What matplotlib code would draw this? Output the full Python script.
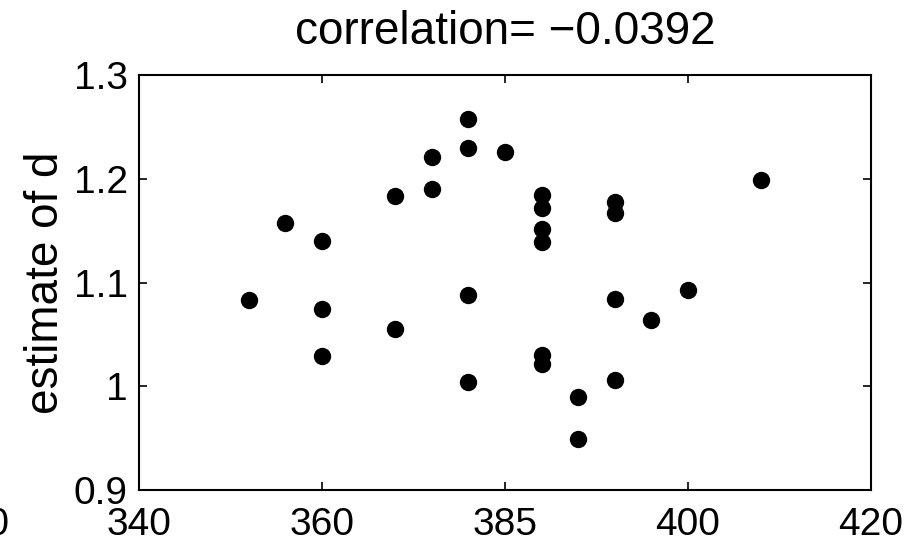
import matplotlib
matplotlib.use('Agg')
import matplotlib.pyplot as plt

plt.rcParams['font.family'] = ['Liberation Sans', 'DejaVu Sans']

# (x in axis units, y = estimate of d)
x_vals = [352, 356, 360, 360, 360, 368, 368, 372, 372, 376, 376, 376, 376,
          380, 384, 384, 384, 384, 384, 384, 388, 388, 392, 392, 392, 392,
          396, 400, 408]
d_vals = [1.083, 1.157, 1.140, 1.074, 1.029, 1.183, 1.055, 1.221, 1.190,
          1.258, 1.230, 1.088, 1.004, 1.226, 1.184, 1.172, 1.152, 1.139,
          1.030, 1.021, 0.990, 0.949, 1.178, 1.167, 1.084, 1.006, 1.064,
          1.093, 1.199]

x_ticks = [340, 360, 380, 400, 420]
x_tick_labels = ['340', '360', '385', '400', '420']
y_ticks = [0.9, 1.0, 1.1, 1.2, 1.3]
y_tick_labels = ['0.9', '1', '1.1', '1.2', '1.3']

W, H = 924, 544
fig = plt.figure(figsize=(W / 100, H / 100), dpi=100)
ax = fig.add_axes([139 / W, 1 - 490 / H, (871 - 139) / W, (490 - 75) / H])

ax.plot(x_vals, d_vals, 'o', color='black', markersize=12.5, markeredgewidth=0)

ax.set_xlim(340, 420)
ax.set_ylim(0.9, 1.3)
ax.set_xticks(x_ticks)
ax.set_xticklabels(x_tick_labels)
ax.set_yticks(y_ticks)
ax.set_yticklabels(y_tick_labels)

ax.tick_params(direction='in', length=6, width=1.2, top=True, right=True,
               labelsize=28, color='black')
ax.tick_params(axis='x', pad=12)
ax.tick_params(axis='y', pad=8)
for s in ax.spines.values():
    s.set_linewidth(1.5)

ax.set_title('correlation= \u22120.0392', fontsize=33, pad=22)
ax.set_ylabel('estimate of d', fontsize=33, labelpad=4)

# tail of a tick label from the neighbouring panel, cut by the edge
fig.text(9 / W, 1 - 535 / H, '420', ha='right', va='baseline', fontsize=28)

fig.savefig('out.png', dpi=100)
